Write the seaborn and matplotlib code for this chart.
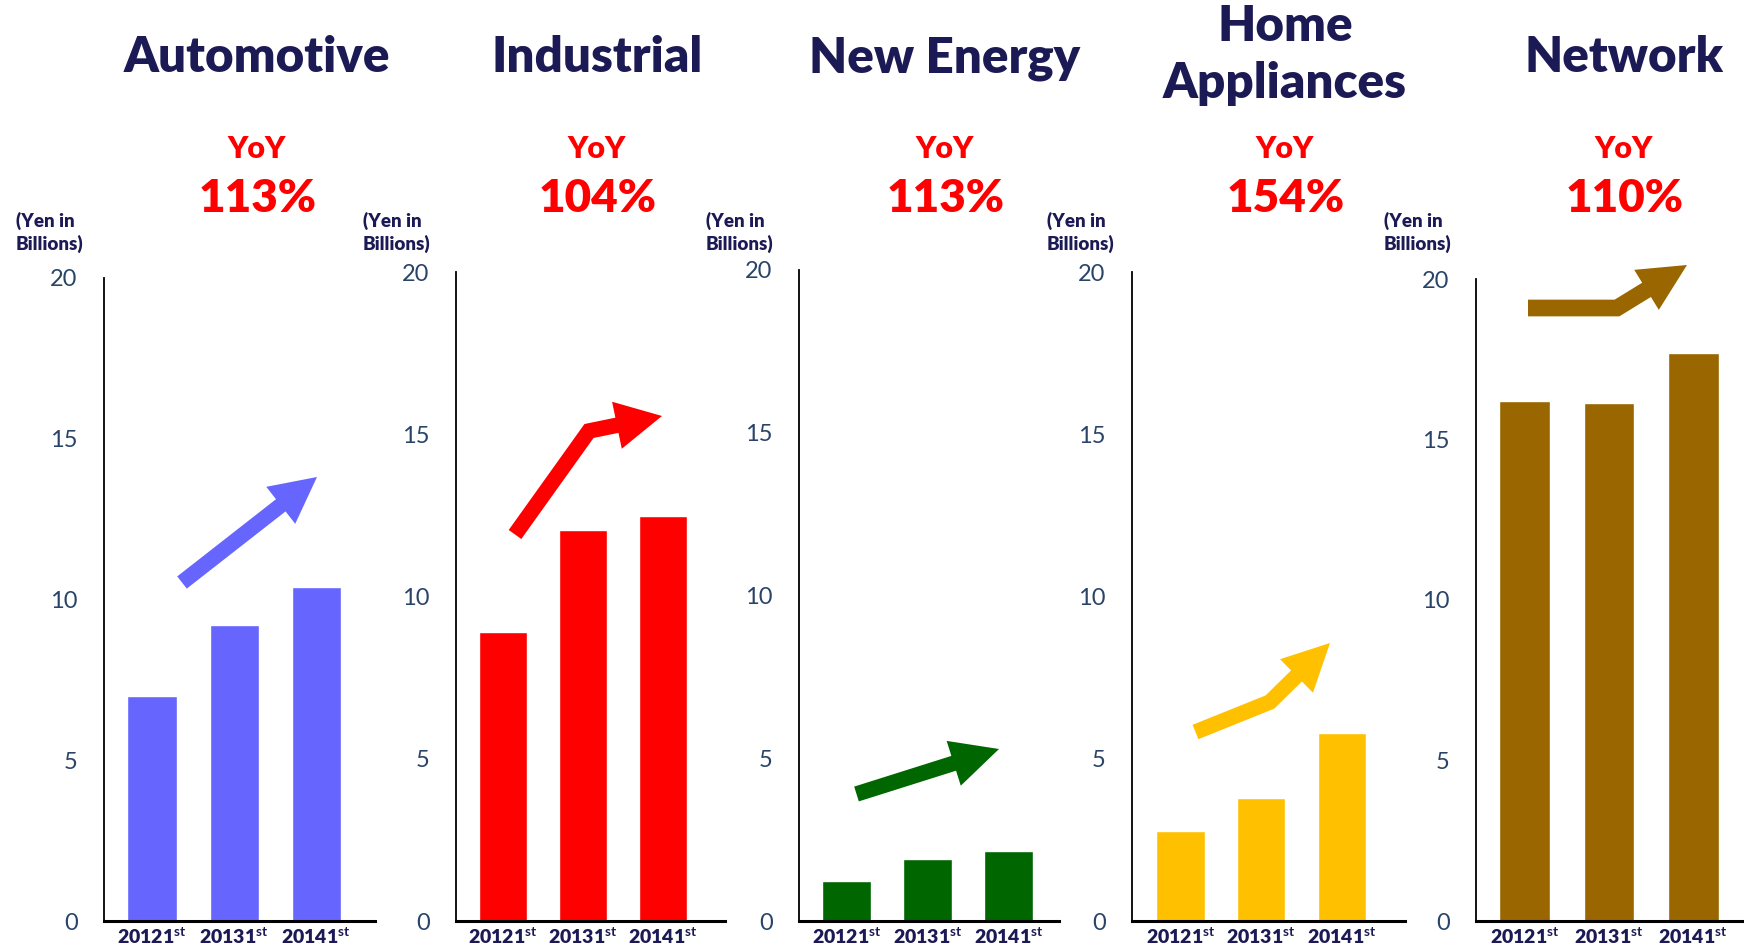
import matplotlib
matplotlib.use("Agg")
import matplotlib.pyplot as plt
from matplotlib.patches import Polygon
import numpy as np
import pandas as pd
import seaborn as sns

# ---- data -------------------------------------------------------------
segments = ["Automotive", "Industrial", "New Energy", "Home\nAppliances", "Network"]
periods = ["20121$^{st}$", "20131$^{st}$", "20141$^{st}$"]
automotive = [7.0, 9.2, 10.4]
industrial = [8.9, 12.05, 12.5]
new_energy = [1.23, 1.9, 2.15]
home_appliances = [2.78, 3.8, 5.8]
network = [16.2, 16.15, 17.7]
yoy_labels = ["113%", "104%", "113%", "154%", "110%"]
y_ticks = [0, 5, 10, 15, 20]
unit_label = "(Yen in\nBillions)"
series = [automotive, industrial, new_energy, home_appliances, network]
colors = ["#6666FF", "#FF0000", "#006600", "#FFC000", "#996600"]

# ---- style ------------------------------------------------------------
sns.set_style("white")
plt.rcParams["font.family"] = ["Lato", "DejaVu Sans"]
plt.rcParams["mathtext.fontset"] = "custom"
plt.rcParams["mathtext.rm"] = "Lato:bold"
plt.rcParams["mathtext.default"] = "rm"

NAVY = "#1C1A55"
TICK_BLUE = "#2A4468"
RED = "#FF0000"

W, H = 1744, 949
fig = plt.figure(figsize=(W / 100, H / 100), dpi=100)

# panel frames in pixels: left, right, top (value 20), bottom (value 0)
frames = [
    (104, 375, 278, 921),
    (456, 725, 272.5, 921),
    (799, 1059, 270, 921),
    (1132, 1405, 272.5, 921),
    (1476, 1744, 279, 921),
]
# category-axis limits per panel
xlims = [(-0.586, 2.717), (-0.589, 2.78), (-0.59, 2.62), (-0.6, 2.78), (-0.576, 2.6)]
title_x = [257, 597, 945, 1285, 1624]
unit_x = [15.5, 362.5, 706, 1046.5, 1383.5]

for i, vals in enumerate(series):
    l, r, t, b = frames[i]
    ax = fig.add_axes([l / W, 1 - b / H, (r - l) / W, (b - t) / H])
    df = pd.DataFrame({"period": periods, "value": vals})
    sns.barplot(data=df, x="period", y="value", color=colors[i], saturation=1,
                width=0.6, ax=ax, zorder=2)
    ax.set_xlim(*xlims[i])
    ax.set_ylim(0, 20)
    ax.set_yticks(y_ticks)
    ax.set_xlabel("")
    ax.set_ylabel("")
    ax.patch.set_alpha(0)
    for s in ("top", "right"):
        ax.spines[s].set_visible(False)
    ax.spines["left"].set_color("black")
    ax.spines["left"].set_linewidth(1.3)
    ax.spines["bottom"].set_color("black")
    ax.spines["bottom"].set_linewidth(2.2)
    ax.spines["bottom"].set_zorder(3)
    ax.tick_params(axis="y", length=0, pad=19, labelsize=17, labelcolor=TICK_BLUE)
    ax.tick_params(axis="x", length=0, pad=4, labelsize=14, labelcolor=NAVY)
    for lab in ax.get_xticklabels():
        lab.set_fontweight("heavy")

# ---- overlay in pixel space for headings and arrows -------------------
ov = fig.add_axes([0, 0, 1, 1], zorder=10)
ov.set_xlim(0, W)
ov.set_ylim(H, 0)
ov.axis("off")
ov.patch.set_alpha(0)

for i, name in enumerate(segments):
    lines = name.split("\n")
    n = len(lines)
    last_base = 72 if n == 1 else 98
    for k, line in enumerate(lines):
        ov.text(title_x[i], last_base - (n - 1 - k) * 57, line, ha="center",
                va="baseline", fontsize=35.5, fontweight="heavy", color=NAVY)
    ov.text(title_x[i], 158, "YoY", ha="center", va="baseline", fontsize=22,
            fontweight="heavy", color=RED)
    ov.text(title_x[i] + 1, 212, yoy_labels[i], ha="center", va="baseline",
            fontsize=33, fontweight="heavy", color=RED)
    ov.text(unit_x[i], 250, unit_label, ha="left", va="baseline", fontsize=13.5,
            fontweight="heavy", color=NAVY, linespacing=1.3)


def block_arrow(pts, color, shaft=15.5, head_w=47, head_len=46):
    pts = np.asarray(pts, dtype=float)
    tip = pts[-1]
    d = tip - pts[-2]
    d /= np.hypot(*d)
    perp = np.array([-d[1], d[0]])
    base = tip - d * head_len
    path = np.vstack([pts[:-1], base + d * 1.0])
    ov.plot(path[:, 0], path[:, 1], color=color, lw=shaft * 0.72,
            solid_capstyle="butt", solid_joinstyle="miter")
    head = np.array([base + perp * head_w / 2, tip, base - perp * head_w / 2])
    ov.add_patch(Polygon(head, closed=True, facecolor=color, edgecolor="none"))


block_arrow([(182, 582.5), (317, 477)], colors[0])
block_arrow([(515, 534.5), (589, 431), (662, 416)], colors[1], head_w=48)
block_arrow([(856.5, 794), (999, 749)], colors[2], head_len=47.5)
block_arrow([(1195.5, 732), (1270, 702), (1330, 643)], colors[3], head_len=47)
block_arrow([(1528, 308), (1617, 308), (1687, 265)], colors[4], shaft=16.7,
            head_len=47.5)

fig.savefig("out.png", dpi=100)
